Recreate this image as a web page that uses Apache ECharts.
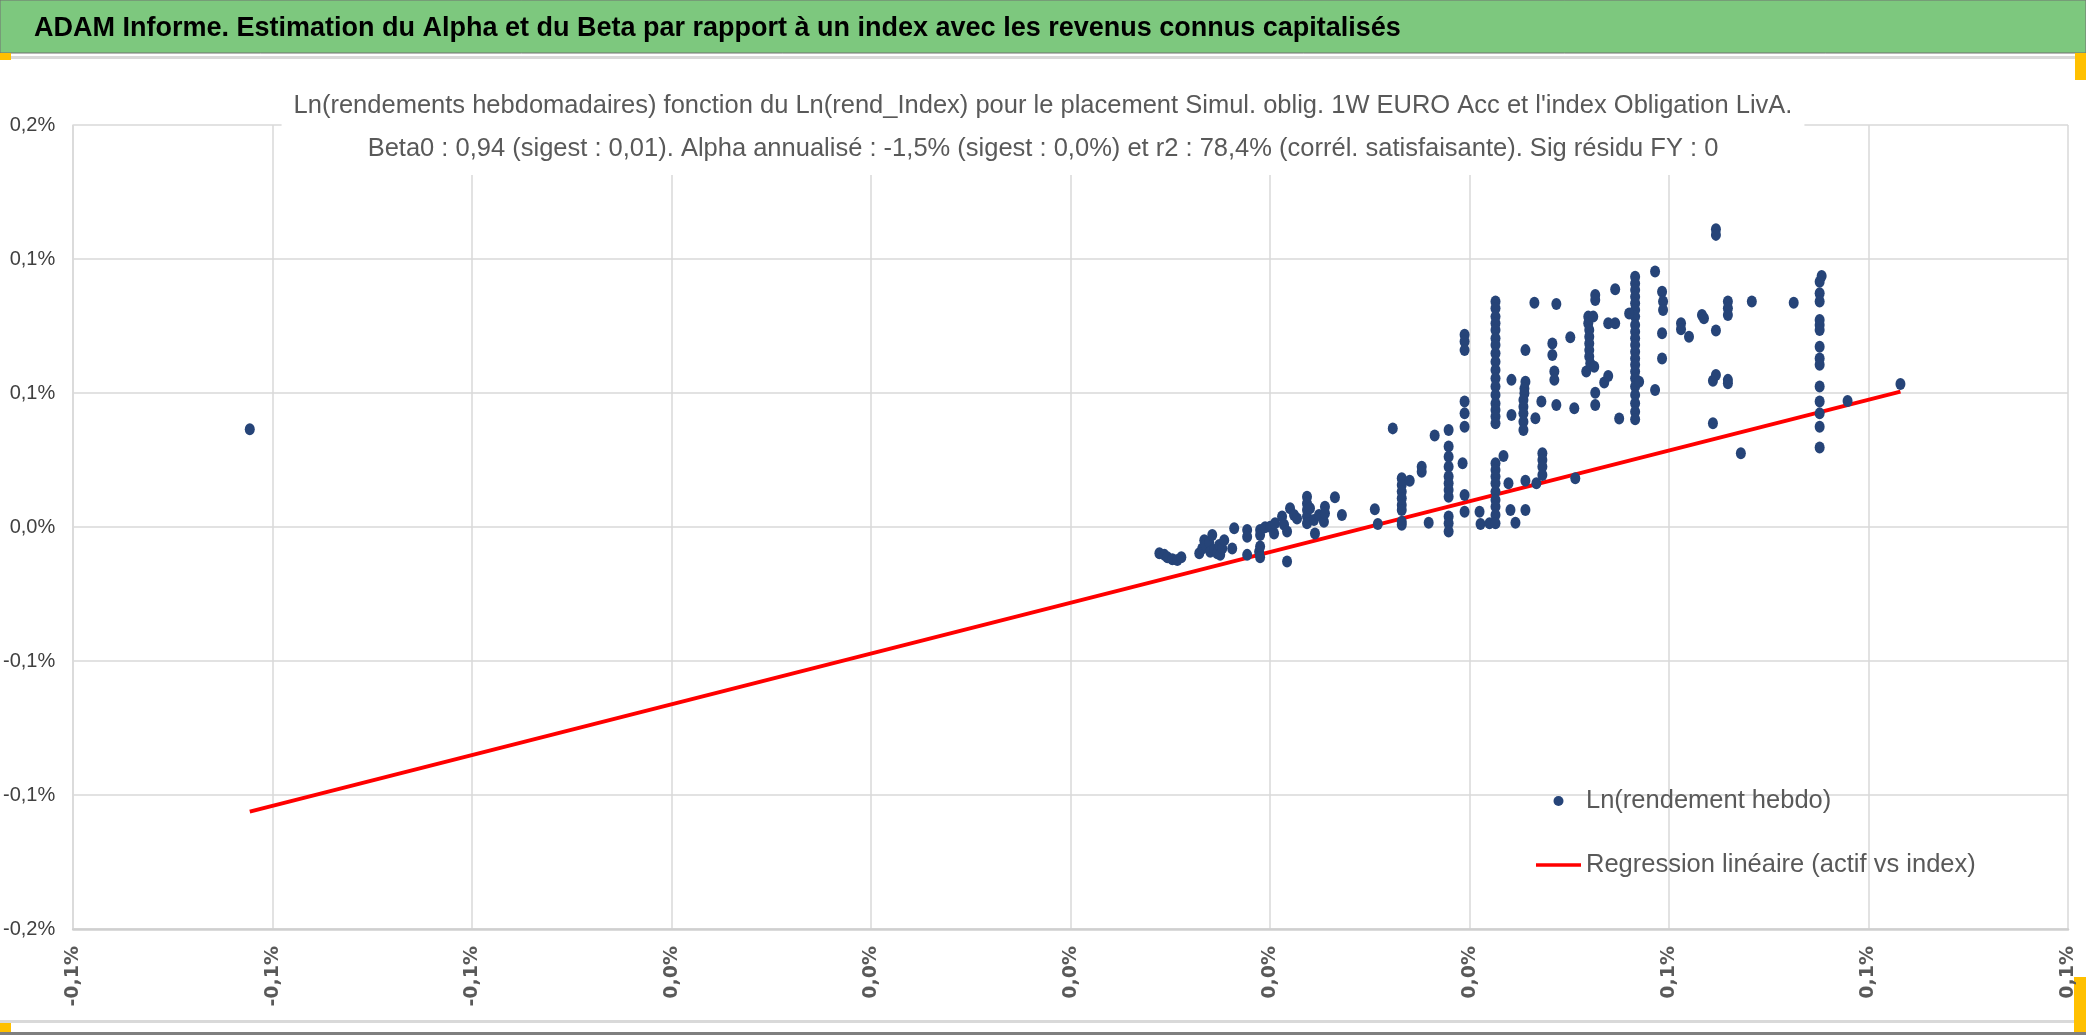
<!DOCTYPE html>
<html>
<head>
<meta charset="utf-8">
<title>ADAM Informe - Alpha et Beta</title>
<script src="https://cdn.jsdelivr.net/npm/echarts@6/dist/echarts.min.js"></script>
<style>
    html, body { margin: 0; padding: 0; background: #fff; }
    #chart { width: 2086px; height: 1035px; }
</style>
</head>
<body>
<div id="chart"></div>
<script>
// axis settings and tick labels (values in %)
var xMin = -0.1, xMax = 0.1, xStep = 0.02;
var yMin = -0.15, yMax = 0.15, yStep = 0.05;
var xTickLabels = ['-0,1%', '-0,1%', '-0,1%', '0,0%', '0,0%', '0,0%', '0,0%', '0,0%', '0,1%', '0,1%', '0,1%'];
var yTickLabels = ['-0,2%', '-0,1%', '-0,1%', '0,0%', '0,1%', '0,1%', '0,2%'];

// [Ln(rend_Index), Ln(rendement hebdo)] in %
var weeklyPoints = [
    [-0.0823, 0.0365],
    [0.0089, -0.0098], [0.0094, -0.0104], [0.0097, -0.0113], [0.0102, -0.0120], [0.0107, -0.0123], [0.0111, -0.0113],
    [0.0129, -0.0098], [0.0132, -0.0080], [0.0134, -0.0049], [0.0135, -0.0067], [0.0139, -0.0058], [0.0140, -0.0092],
    [0.0142, -0.0030], [0.0144, -0.0086], [0.0147, -0.0098], [0.0149, -0.0067], [0.0150, -0.0104], [0.0152, -0.0080],
    [0.0154, -0.0049], [0.0162, -0.0080], [0.0164, -0.0005], [0.0177, -0.0011], [0.0177, -0.0036], [0.0177, -0.0104],
    [0.0189, -0.0092], [0.0190, -0.0073], [0.0190, -0.0113], [0.0190, -0.0011], [0.0190, -0.0030], [0.0195, -0.0001],
    [0.0200, 0.0001], [0.0204, -0.0024], [0.0205, 0.0014], [0.0212, 0.0039], [0.0214, 0.0008], [0.0217, -0.0017],
    [0.0220, 0.0070], [0.0224, 0.0045], [0.0227, 0.0032], [0.0217, -0.0129],
    [0.0237, 0.0113], [0.0237, 0.0088], [0.0237, 0.0063], [0.0237, 0.0039], [0.0237, 0.0014], [0.0240, 0.0070],
    [0.0244, 0.0026], [0.0245, -0.0024], [0.0249, 0.0045], [0.0254, 0.0020], [0.0255, 0.0076], [0.0255, 0.0051],
    [0.0265, 0.0111], [0.0272, 0.0045], [0.0305, 0.0066], [0.0308, 0.0011],
    [0.0323, 0.0368],
    [0.0332, 0.0182], [0.0332, 0.0157], [0.0332, 0.0132], [0.0332, 0.0107], [0.0332, 0.0082], [0.0332, 0.0063],
    [0.0332, 0.0020], [0.0332, 0.0008], [0.0340, 0.0173], [0.0352, 0.0225], [0.0352, 0.0206], [0.0359, 0.0016],
    [0.0365, 0.0341],
    [0.0379, 0.0362], [0.0379, 0.0300], [0.0379, 0.0262], [0.0379, 0.0225], [0.0379, 0.0188], [0.0379, 0.0163],
    [0.0379, 0.0138], [0.0379, 0.0113], [0.0379, 0.0039], [0.0379, 0.0014], [0.0379, -0.0017],
    [0.0393, 0.0238], [0.0395, 0.0717], [0.0395, 0.0692], [0.0395, 0.0660], [0.0395, 0.0468], [0.0395, 0.0424],
    [0.0395, 0.0374], [0.0395, 0.0119], [0.0395, 0.0057], [0.0410, 0.0057], [0.0411, 0.0011], [0.0420, 0.0014],
    [0.0426, 0.0841], [0.0426, 0.0816], [0.0426, 0.0785], [0.0426, 0.0760], [0.0426, 0.0735], [0.0426, 0.0704],
    [0.0426, 0.0679], [0.0426, 0.0648], [0.0426, 0.0617], [0.0426, 0.0586], [0.0426, 0.0555], [0.0426, 0.0524],
    [0.0426, 0.0493], [0.0426, 0.0461], [0.0426, 0.0437], [0.0426, 0.0412], [0.0426, 0.0387],
    [0.0426, 0.0238], [0.0426, 0.0213], [0.0426, 0.0188], [0.0426, 0.0163], [0.0426, 0.0132], [0.0426, 0.0101],
    [0.0426, 0.0076], [0.0426, 0.0045], [0.0426, 0.0014],
    [0.0434, 0.0265], [0.0439, 0.0163], [0.0441, 0.0063], [0.0442, 0.0549], [0.0442, 0.0418], [0.0446, 0.0016],
    [0.0456, 0.0542], [0.0455, 0.0517], [0.0455, 0.0499], [0.0454, 0.0474], [0.0454, 0.0449], [0.0454, 0.0424],
    [0.0454, 0.0393], [0.0454, 0.0362], [0.0456, 0.0660], [0.0456, 0.0173], [0.0456, 0.0063],
    [0.0465, 0.0837], [0.0466, 0.0406], [0.0467, 0.0163], [0.0472, 0.0468],
    [0.0473, 0.0275], [0.0473, 0.0250], [0.0473, 0.0225], [0.0473, 0.0194],
    [0.0487, 0.0832], [0.0483, 0.0685], [0.0483, 0.0642], [0.0485, 0.0580], [0.0485, 0.0549], [0.0487, 0.0455],
    [0.0501, 0.0708], [0.0505, 0.0443], [0.0506, 0.0182],
    [0.0517, 0.0580], [0.0519, 0.0785], [0.0519, 0.0760], [0.0520, 0.0735], [0.0520, 0.0710], [0.0520, 0.0685],
    [0.0520, 0.0660], [0.0520, 0.0636], [0.0521, 0.0611], [0.0524, 0.0785], [0.0525, 0.0598], [0.0526, 0.0866],
    [0.0526, 0.0847], [0.0526, 0.0501], [0.0526, 0.0455], [0.0535, 0.0539], [0.0539, 0.0563], [0.0539, 0.0760],
    [0.0546, 0.0760], [0.0546, 0.0887], [0.0550, 0.0405],
    [0.0566, 0.0934], [0.0566, 0.0909], [0.0566, 0.0884], [0.0566, 0.0859], [0.0566, 0.0835], [0.0566, 0.0810],
    [0.0566, 0.0785], [0.0566, 0.0754], [0.0566, 0.0729], [0.0566, 0.0704], [0.0566, 0.0679], [0.0566, 0.0654],
    [0.0566, 0.0629], [0.0566, 0.0605], [0.0566, 0.0580], [0.0566, 0.0555], [0.0566, 0.0524], [0.0566, 0.0493],
    [0.0566, 0.0462], [0.0566, 0.0430], [0.0566, 0.0402],
    [0.0560, 0.0797], [0.0570, 0.0542],
    [0.0586, 0.0953], [0.0593, 0.0878], [0.0594, 0.0841], [0.0594, 0.0810], [0.0593, 0.0723], [0.0593, 0.0629],
    [0.0586, 0.0511],
    [0.0612, 0.0760], [0.0612, 0.0738], [0.0620, 0.0710], [0.0633, 0.0791], [0.0635, 0.0779],
    [0.0647, 0.1111], [0.0647, 0.1090], [0.0647, 0.0733], [0.0644, 0.0546], [0.0647, 0.0567],
    [0.0659, 0.0841], [0.0659, 0.0816], [0.0659, 0.0791], [0.0659, 0.0549], [0.0659, 0.0536],
    [0.0644, 0.0387], [0.0672, 0.0275], [0.0683, 0.0841], [0.0725, 0.0837],
    [0.0753, 0.0937], [0.0751, 0.0915], [0.0751, 0.0872], [0.0751, 0.0841], [0.0751, 0.0772], [0.0751, 0.0754],
    [0.0751, 0.0735], [0.0751, 0.0673], [0.0751, 0.0629], [0.0751, 0.0605], [0.0751, 0.0524], [0.0751, 0.0468],
    [0.0751, 0.0424], [0.0751, 0.0374], [0.0751, 0.0297],
    [0.0779, 0.0470], [0.0832, 0.0534]
];

// regression line end points (min and max of the index returns)
var regLine = [[-0.0823, -0.1062], [0.0832, 0.0505]];

var headerText = 'ADAM Informe. Estimation du Alpha et du Beta par rapport à un index avec les revenus connus capitalisés';
var titleLine1 = "Ln(rendements hebdomadaires) fonction du Ln(rend_Index) pour le placement Simul. oblig. 1W EURO Acc et l'index Obligation LivA.";
var titleLine2 = 'Beta0 : 0,94 (sigest : 0,01). Alpha annualisé : -1,5% (sigest : 0,0%) et r2 : 78,4% (corrél. satisfaisante). Sig résidu FY : 0';

var sans = "'Liberation Sans', Arial, sans-serif";

var $chart = echarts.init(document.getElementById('chart'));

var option = {
    animation: false,
    backgroundColor: '#fff',
    graphic: [
        { type: 'rect', shape: { x: 0, y: 0, width: 2086, height: 53 }, style: { fill: '#7dc87e', stroke: '#707070', lineWidth: 1 } },
        { type: 'rect', shape: { x: 0, y: 56, width: 2086, height: 3 }, style: { fill: '#d9d9d9' } },
        { type: 'rect', shape: { x: 0, y: 1020, width: 2086, height: 3 }, style: { fill: '#d9d9d9' } },
        { type: 'rect', shape: { x: 0, y: 1032, width: 2086, height: 3 }, style: { fill: '#7f7f7f' } },
        { type: 'rect', shape: { x: 0, y: 53, width: 11, height: 7 }, style: { fill: '#ffc000' } },
        { type: 'rect', shape: { x: 2075, y: 53, width: 11, height: 27 }, style: { fill: '#ffc000' } },
        { type: 'rect', shape: { x: 0, y: 1023, width: 11, height: 9 }, style: { fill: '#ffc000' } },
        { type: 'rect', shape: { x: 2074, y: 977, width: 12, height: 55 }, style: { fill: '#ffc000' } }
    ],
    title: [
        {
            text: headerText,
            left: 29,
            top: 10,
            textStyle: { fontSize: 27, fontWeight: 'bold', color: '#000', fontFamily: sans }
        },
        {
            text: titleLine1 + '\n' + titleLine2,
            left: 'center',
            top: 79,
            backgroundColor: '#fff',
            padding: [5, 12],
            textStyle: { fontSize: 25.5, fontWeight: 'normal', color: '#595959', lineHeight: 43, fontFamily: sans }
        }
    ],
    legend: {
        orient: 'vertical',
        left: 1531,
        top: 783,
        itemWidth: 45,
        itemHeight: 10,
        itemGap: 38,
        textStyle: { fontSize: 25.5, color: '#595959', fontFamily: sans },
        data: [
            { name: 'Ln(rendement hebdo)', icon: 'circle' },
            { name: 'Regression linéaire (actif vs index)', icon: 'path://M0,0 L45,0 L45,3.5 L0,3.5 Z' }
        ]
    },
    grid: { left: 68, right: 18, top: 125, bottom: 106 },
    xAxis: {
        type: 'value',
        min: xMin,
        max: xMax,
        interval: xStep,
        axisLine: { show: true, onZero: false, lineStyle: { color: '#cfcfcf', width: 2.5 } },
        axisTick: { show: false },
        splitLine: { show: true, lineStyle: { color: '#d9d9d9', width: 1.5 } },
        axisLabel: {
            rotate: 90,
            margin: 17,
            fontSize: 19,
            fontWeight: 'bold',
            color: '#595959',
            fontFamily: "'DejaVu Sans', sans-serif",
            formatter: function (v) {
                return xTickLabels[Math.round((v - xMin) / xStep)];
            }
        }
    },
    yAxis: {
        type: 'value',
        min: yMin,
        max: yMax,
        interval: yStep,
        axisLine: { show: true, onZero: false, lineStyle: { color: '#d9d9d9', width: 1.5 } },
        axisTick: { show: false },
        splitLine: { show: true, lineStyle: { color: '#d9d9d9', width: 1.5 } },
        axisLabel: {
            margin: 18,
            fontSize: 20,
            color: '#404040',
            fontFamily: sans,
            formatter: function (v) {
                return yTickLabels[Math.round((v - yMin) / yStep)];
            }
        }
    },
    series: [
        {
            name: 'Ln(rendement hebdo)',
            type: 'scatter',
            data: weeklyPoints,
            symbolSize: [10, 12],
            itemStyle: { color: '#264478', opacity: 1 },
            z: 3
        },
        {
            name: 'Regression linéaire (actif vs index)',
            type: 'line',
            data: regLine,
            symbol: 'none',
            lineStyle: { color: '#ff0000', width: 4 },
            itemStyle: { color: '#ff0000' },
            z: 2
        }
    ]
};

$chart.setOption(option);
</script>
</body>
</html>
